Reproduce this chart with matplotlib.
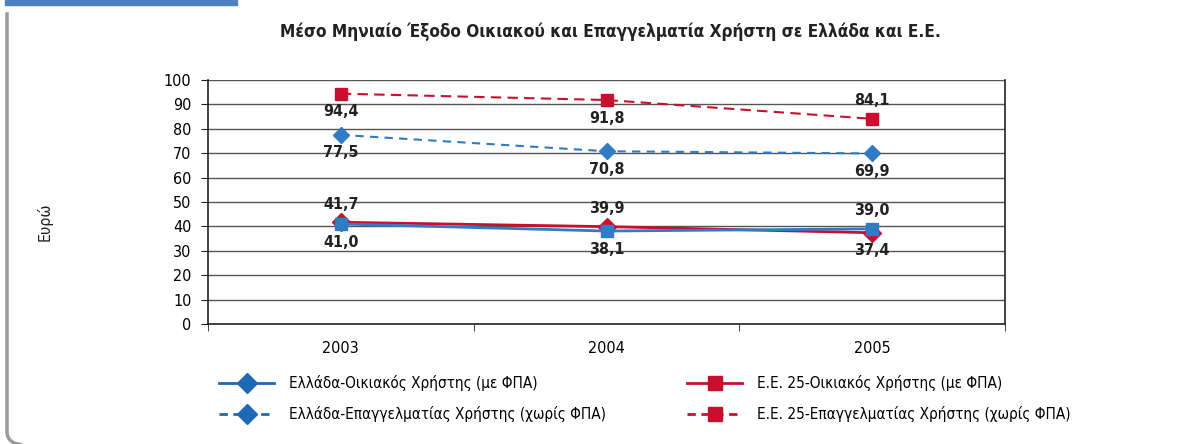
import numpy as np
import matplotlib
matplotlib.use("Agg")
import matplotlib.pyplot as plt
from matplotlib.lines import Line2D
from matplotlib.patches import Rectangle

plt.rcParams['font.family'] = ['DejaVu Sans']
plt.rcParams['font.stretch'] = 'condensed'

years = ['2003', '2004', '2005']
gr_home = [41.0, 38.1, 39.0]
gr_pro = [77.5, 70.8, 69.9]
eu_home = [41.7, 39.9, 37.4]
eu_pro = [94.4, 91.8, 84.1]

# label side for each point: +1 above, -1 below
gr_home_pos = [-1, -1, 1]
gr_pro_pos = [-1, -1, -1]
eu_home_pos = [1, 1, -1]
eu_pro_pos = [-1, -1, 1]

labels = ['Ελλάδα-Οικιακός Χρήστης (με ΦΠΑ)',
          'Ελλάδα-Επαγγελματίας Χρήστης (χωρίς ΦΠΑ)',
          'Ε.Ε. 25-Οικιακός Χρήστης (με ΦΠΑ)',
          'Ε.Ε. 25-Επαγγελματίας Χρήστης (χωρίς ΦΠΑ)']

blue = '#2F7BC4'
blue_dark = '#1F68B5'
red = '#C8102E'

fig = plt.figure(figsize=(12.01, 4.44), dpi=100)
ax = fig.add_axes([208 / 1201, 120 / 444, 797 / 1201, 244 / 444])

x = np.arange(len(years))
ax.plot(x, gr_pro, color=blue, lw=1.5, ls=(0, (4, 3)), marker='D', ms=8, zorder=3)
ax.plot(x, eu_pro, color=red, lw=1.5, ls=(0, (5, 3)), marker='s', ms=9, zorder=3)
ax.plot(x, eu_home, color=red, lw=2, marker='D', ms=9, zorder=3)
ax.plot(x, gr_home, color=blue, lw=2, marker='s', ms=9, zorder=4)

for vals, pos in [(gr_home, gr_home_pos), (gr_pro, gr_pro_pos),
                  (eu_home, eu_home_pos), (eu_pro, eu_pro_pos)]:
    for i, (v, p) in enumerate(zip(vals, pos)):
        ax.annotate(f'{v:.1f}'.replace('.', ','), (i, v), xytext=(0, 13 * p),
                    textcoords='offset points', ha='center', va='center',
                    fontsize=11.5, fontweight='bold', color='#222222')

ax.set_xlim(-0.5, 2.5)
ax.set_ylim(0, 100)
ax.set_yticks(np.arange(0, 101, 10))
ax.set_xticks(x)
ax.set_xticklabels(years)
ax.set_xticks([-0.5, 0.5, 1.5, 2.5], minor=True)
ax.tick_params(axis='x', which='major', length=0, pad=12, labelsize=11.5)
ax.tick_params(axis='x', which='minor', length=5, color='#222222')
ax.tick_params(axis='y', length=5, direction='out', labelsize=11.5, pad=7, color='#222222')
ax.yaxis.grid(True, color='#555555', lw=1)
ax.set_axisbelow(True)
for s in ['left', 'bottom', 'right']:
    ax.spines[s].set_color('#222222')
    ax.spines[s].set_linewidth(1.2)
ax.spines['top'].set_visible(False)

fig.text(0.508, 0.928, 'Μέσο Μηνιαίο Έξοδο Οικιακού και Επαγγελματία Χρήστη σε Ελλάδα και Ε.Ε.',
         ha='center', va='center', fontsize=12.3, fontweight='bold', color='#222222')
fig.text(45 / 1201, 1 - 222 / 444, 'Ευρώ', rotation=90, ha='center', va='center',
         fontsize=11.5, color='#222222')

h1 = Line2D([], [], color=blue_dark, lw=2, marker='D', ms=10)
h2 = Line2D([], [], color=blue_dark, lw=2, ls=(0, (3, 2)), marker='D', ms=10)
h3 = Line2D([], [], color=red, lw=2, marker='s', ms=10)
h4 = Line2D([], [], color=red, lw=2, ls=(0, (3, 2)), marker='s', ms=10)
kw = dict(frameon=False, fontsize=11, handlelength=3.6, handletextpad=1.0,
          labelspacing=1.0, loc='upper left', borderaxespad=0)
fig.legend([h1, h2], labels[:2], bbox_to_anchor=(213 / 1201, 1 - 369 / 444), **kw)
fig.legend([h3, h4], labels[2:], bbox_to_anchor=(681 / 1201, 1 - 369 / 444), **kw)

# panel decoration: blue bar and grey border with rounded bottom-left corner
fig.patches.append(Rectangle((5 / 1201, 1 - 5 / 444), 232 / 1201, 5 / 444,
                             transform=fig.transFigure, color='#5080C4', zorder=0))
r = 12
ang = np.linspace(np.pi, 1.5 * np.pi, 20)
bx_px = np.r_[7, 7, 7 + r + r * np.cos(ang), 30]
by_px = np.r_[14, 432, 432 - r * np.sin(ang), 448]
fig.lines.append(Line2D(bx_px / 1201, 1 - by_px / 444, transform=fig.transFigure,
                        color='#9A9A9A', lw=2.5))

fig.savefig('out.png', dpi=100)
